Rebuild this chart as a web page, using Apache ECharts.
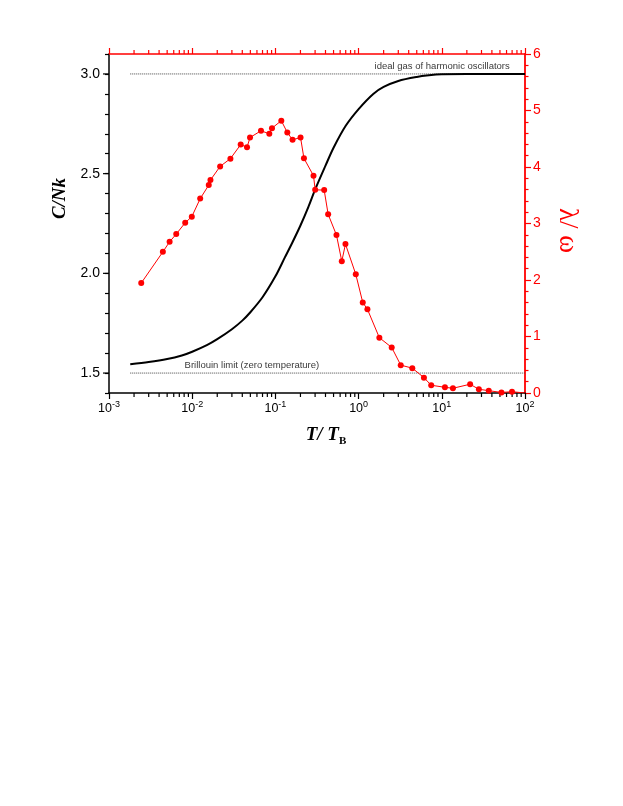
<!DOCTYPE html>
<html><head><meta charset="utf-8">
<script src="https://cdn.jsdelivr.net/npm/echarts@6/dist/echarts.min.js"></script>
<style>html,body{margin:0;padding:0;background:#fff}#c{width:623px;height:806px}</style>
</head><body><div id="c"></div>
<script>
// Heat capacity C/Nk vs T/T_B (left axis)
const heatT = [0.0018, 0.003, 0.005, 0.0075, 0.01, 0.015, 0.02, 0.03, 0.04, 0.05, 0.07, 0.1, 0.13, 0.16, 0.2, 0.25, 0.3, 0.4, 0.5, 0.7, 1.0, 1.5, 2, 3, 5, 7, 10, 20, 50, 100];
const heatC = [1.544, 1.555, 1.57, 1.588, 1.607, 1.64, 1.67, 1.72, 1.763, 1.805, 1.88, 1.985, 2.08, 2.155, 2.24, 2.335, 2.42, 2.54, 2.63, 2.74, 2.824, 2.9, 2.935, 2.965, 2.985, 2.993, 2.998, 3.0, 3.0, 3.0];
// lambda/omega vs T/T_B (right axis)
const ratioT = [0.00244, 0.00444, 0.00535, 0.00643, 0.00824, 0.00989, 0.01248, 0.01582, 0.01657, 0.02167, 0.02879, 0.03828, 0.0456, 0.04955, 0.0671, 0.0845, 0.091, 0.1178, 0.139, 0.1607, 0.2005, 0.2203, 0.2871, 0.3007, 0.3857, 0.4305, 0.542, 0.628, 0.695, 0.925, 1.122, 1.276, 1.776, 2.5, 3.21, 4.42, 6.1, 7.46, 10.9, 13.6, 21.9, 27.9, 36.7, 52.1, 69.8, 100];
const ratioV = [1.946, 2.498, 2.676, 2.813, 3.014, 3.121, 3.441, 3.68, 3.769, 4.011, 4.148, 4.397, 4.349, 4.522, 4.641, 4.588, 4.688, 4.819, 4.611, 4.481, 4.522, 4.154, 3.846, 3.596, 3.591, 3.163, 2.795, 2.332, 2.635, 2.101, 1.602, 1.483, 0.979, 0.806, 0.493, 0.44, 0.272, 0.137, 0.101, 0.084, 0.155, 0.066, 0.041, 0.01, 0.023, 0.0];
// reference limits
const limitT = [0.0018, 100];
const idealGasLevel = 3.0;
const brillouinLevel = 1.5;
const idealGasText = 'ideal gas of harmonic oscillators';
const brillouinText = 'Brillouin limit (zero temperature)';
const idealGasLabelAt = 65.6;
const brillouinLabelAt = 0.0081;
// axis ticks
const xMajorTicks = [0.001, 0.01, 0.1, 1, 10, 100];
const xTickLabels = ['{n|10}{s|-3}', '{n|10}{s|-2}', '{n|10}{s|-1}', '{n|10}{s|0}', '{n|10}{s|1}', '{n|10}{s|2}'];
const xMinorMultipliers = [2, 3, 4, 5, 6, 7, 8, 9];
const leftMajorTicks = [1.5, 2.0, 2.5, 3.0];
const leftMin = 1.4, leftMax = 3.1;
const rightMin = 0, rightMax = 6;

const xMinorTicks = [];
xMajorTicks.slice(0, -1).forEach(d => xMinorMultipliers.forEach(m => xMinorTicks.push(+(d * m).toPrecision(3))));

const chart = echarts.init(document.getElementById('c'), null, {renderer: 'canvas'});
const RED = '#ff0000';
const sans = 'Liberation Sans, Arial, sans-serif';
const serif = 'Liberation Serif, Times New Roman, serif';

const option = {
  animation: false,
  backgroundColor: '#fff',
  grid: {left: 109, right: 98, top: 54, bottom: 413, containLabel: false},
  xAxis: [
    {
      type: 'log', logBase: 10, min: 0.001, max: 100, position: 'bottom',
      name: '{t|T/ T}{b|B}', nameLocation: 'middle', nameGap: 30,
      nameTextStyle: {padding: [0, 0, 0, 18], rich: {
        t: {fontFamily: serif, fontWeight: 'bold', fontStyle: 'italic', fontSize: 19, color: '#000', lineHeight: 24},
        b: {fontFamily: serif, fontWeight: 'bold', fontSize: 11, color: '#000', verticalAlign: 'bottom', lineHeight: 14}
      }},
      axisLine: {show: true, onZero: false, lineStyle: {color: '#000', width: 1.5}},
      axisTick: {show: true, inside: false, length: 6, lineStyle: {color: '#000', width: 1.2}},
      axisLabel: {
        margin: 9, color: '#000', fontFamily: sans, fontSize: 12,
        formatter: v => { const i = xMajorTicks.findIndex(t => Math.abs(Math.log10(t) - Math.log10(v)) < 1e-6); return i >= 0 ? xTickLabels[i] : ''; },
        rich: {
          n: {fontSize: 12.5, fontFamily: sans, color: '#000', lineHeight: 14},
          s: {fontSize: 9, fontFamily: sans, color: '#000', lineHeight: 9, padding: [0, 0, 9, 0]}
        }
      },
      splitLine: {show: false}
    },
    {
      type: 'log', logBase: 10, min: 0.001, max: 100, position: 'top',
      axisLine: {show: true, onZero: false, lineStyle: {color: RED, width: 1.5}},
      axisTick: {show: true, inside: false, length: 6, lineStyle: {color: RED, width: 1.2}},
      axisLabel: {show: false},
      splitLine: {show: false}
    }
  ],
  yAxis: [
    {
      type: 'value', min: leftMin, max: leftMax, interval: 0.1, position: 'left',
      name: 'C/Nk', nameLocation: 'middle', nameGap: 28,
      nameTextStyle: {fontFamily: serif, fontWeight: 'bold', fontStyle: 'italic', fontSize: 19, color: '#000', padding: [0, 0, 0, 50]},
      axisLine: {show: true, onZero: false, lineStyle: {color: '#000', width: 1.5}},
      axisTick: {show: true, inside: false, length: 4, lineStyle: {color: '#000', width: 1.2}},
      axisLabel: {
        margin: 9, color: '#000', fontFamily: sans, fontSize: 14,
        formatter: v => leftMajorTicks.some(t => Math.abs(t - v) < 1e-6) ? v.toFixed(1) : ''
      },
      splitLine: {show: false}
    },
    {
      type: 'value', min: rightMin, max: rightMax, interval: 1, position: 'right',
      name: 'λ/ ω', nameLocation: 'middle', nameGap: 29, nameRotate: -90,
      nameTextStyle: {fontFamily: serif, fontSize: 27, color: RED, padding: [0, 0, 0, 14]},
      axisLine: {show: true, onZero: false, lineStyle: {color: RED, width: 1.8}},
      axisTick: {show: true, inside: false, length: 6, lineStyle: {color: RED, width: 1.2}},
      minorTick: {show: true, splitNumber: 5, length: 3.5, lineStyle: {color: RED, width: 1.2}},
      axisLabel: {margin: 8, color: RED, fontFamily: sans, fontSize: 14},
      splitLine: {show: false}, minorSplitLine: {show: false}
    }
  ],
  series: [
    {
      type: 'line', name: 'ideal', xAxisIndex: 0, yAxisIndex: 0, symbol: 'none',
      data: limitT.map(t => [t, idealGasLevel]),
      lineStyle: {color: '#444', width: 1, type: [1, 1]}, z: 1
    },
    {
      type: 'line', name: 'brillouin', xAxisIndex: 0, yAxisIndex: 0, symbol: 'none',
      data: limitT.map(t => [t, brillouinLevel]),
      lineStyle: {color: '#444', width: 1, type: [1, 1]}, z: 1
    },
    {
      type: 'scatter', xAxisIndex: 0, yAxisIndex: 0, symbolSize: 0, silent: true,
      data: [
        {value: [idealGasLabelAt, idealGasLevel], label: {show: true, formatter: idealGasText, position: [0, 0], align: 'right', verticalAlign: 'bottom', offset: [0, -3]}},
        {value: [brillouinLabelAt, brillouinLevel], label: {show: true, formatter: brillouinText, position: [0, 0], align: 'left', verticalAlign: 'bottom', offset: [0, -3]}}
      ],
      label: {color: '#000', fontFamily: sans, fontSize: 9.5}
    },
    {
      type: 'line', name: 'C/Nk', xAxisIndex: 0, yAxisIndex: 0, symbol: 'none', smooth: 0.3,
      data: heatT.map((t, i) => [t, heatC[i]]),
      lineStyle: {color: '#000', width: 2}, z: 3
    },
    {
      type: 'line', name: 'λ/ω', xAxisIndex: 0, yAxisIndex: 1, symbol: 'circle', symbolSize: 6,
      data: ratioT.map((t, i) => i === ratioT.length - 1 ? {value: [t, ratioV[i]], symbolSize: 0} : [t, ratioV[i]]),
      lineStyle: {color: RED, width: 1}, itemStyle: {color: RED}, z: 4
    },
    {
      type: 'custom', xAxisIndex: 0, yAxisIndex: 0, silent: true, clip: false,
      data: xMinorTicks.map(v => [v, leftMin]),
      encode: {x: 0, y: 1},
      renderItem: (params, api) => {
        const v = api.value(0);
        const b = api.coord([v, leftMin]);
        const t = api.coord([v, leftMax]);
        return {type: 'group', children: [
          {type: 'line', shape: {x1: b[0], y1: b[1], x2: b[0], y2: b[1] + 4}, style: {stroke: '#000', lineWidth: 1.2}},
          {type: 'line', shape: {x1: t[0], y1: t[1], x2: t[0], y2: t[1] - 4}, style: {stroke: RED, lineWidth: 1.2}}
        ]};
      }
    },
    {
      type: 'custom', xAxisIndex: 0, yAxisIndex: 0, silent: true, clip: false,
      data: leftMajorTicks.map(v => [0.001, v]),
      encode: {x: 0, y: 1},
      renderItem: (params, api) => {
        const p = api.coord([api.value(0), api.value(1)]);
        return {type: 'line', shape: {x1: p[0], y1: p[1], x2: p[0] - 6, y2: p[1]}, style: {stroke: '#000', lineWidth: 1.2}};
      }
    }
  ]
};
chart.setOption(option);
</script>
</body></html>
